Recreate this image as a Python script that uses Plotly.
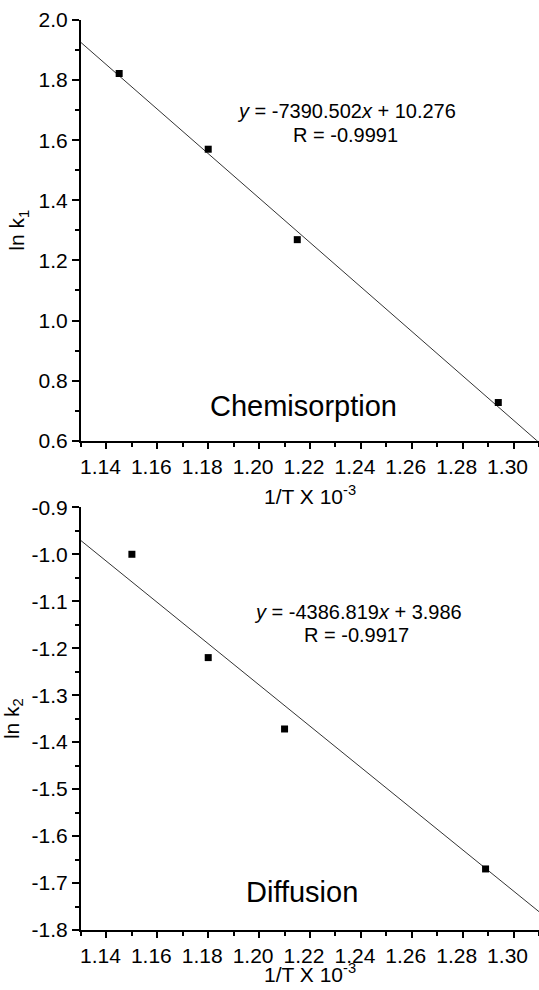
import plotly.graph_objects as go
from plotly.subplots import make_subplots

# Data
x_chem = [1.145, 1.180, 1.215, 1.294]
y_chem = [1.822, 1.570, 1.269, 0.727]
x_diff = [1.150, 1.180, 1.210, 1.289]
y_diff = [-1.000, -1.220, -1.372, -1.670]

fit_x = [1.13, 1.31]
fit_chem_y = [1.925, 0.594]
fit_diff_y = [-0.971, -1.761]

eq_chem = ["<i>y</i> = -7390.502<i>x</i> + 10.276", "R = -0.9991"]
eq_diff = ["<i>y</i> = -4386.819<i>x</i> + 3.986", "R = -0.9917"]
labels = ["Chemisorption", "Diffusion"]
x_title = "1/T X 10<sup>-3</sup>"

xticks = [1.14, 1.16, 1.18, 1.20, 1.22, 1.24, 1.26, 1.28, 1.30]
yticks_top = [0.6, 0.8, 1.0, 1.2, 1.4, 1.6, 1.8, 2.0]
yticks_bot = [-1.8, -1.7, -1.6, -1.5, -1.4, -1.3, -1.2, -1.1, -1.0, -0.9]

FONT = "Arial, Liberation Sans, sans-serif"
TICK_SIZE = 21
TITLE_SIZE = 21

fig = make_subplots(rows=2, cols=1)

line_style = dict(color="#333333", width=1)
marker_style = dict(symbol="square", size=7, color="black")

fig.add_trace(go.Scatter(x=fit_x, y=fit_chem_y, mode="lines", line=line_style,
                         showlegend=False, hoverinfo="skip"), row=1, col=1)
fig.add_trace(go.Scatter(x=x_chem, y=y_chem, mode="markers", marker=marker_style,
                         showlegend=False, cliponaxis=False), row=1, col=1)
fig.add_trace(go.Scatter(x=fit_x, y=fit_diff_y, mode="lines", line=line_style,
                         showlegend=False, hoverinfo="skip"), row=2, col=1)
fig.add_trace(go.Scatter(x=x_diff, y=y_diff, mode="markers", marker=marker_style,
                         showlegend=False, cliponaxis=False), row=2, col=1)

xaxis_common = dict(
    range=[1.13, 1.31], tickvals=xticks, ticktext=[f"{v:.2f}" for v in xticks],
    ticks="outside", ticklen=6, tickwidth=1.5, tickcolor="black",
    showline=True, linecolor="black", linewidth=2, mirror=False,
    showgrid=False, zeroline=False,
    tickfont=dict(family=FONT, size=TICK_SIZE, color="black"),
    ticklabelshift=-6,
    minor=dict(dtick=0.01, tick0=1.13, ticks="outside", ticklen=4, tickwidth=1.5, tickcolor="black"),
)
fig.update_xaxes(**xaxis_common, row=1, col=1)
fig.update_xaxes(**xaxis_common, row=2, col=1)

yaxis_common = dict(
    ticks="outside", ticklen=7, tickwidth=1.5, tickcolor="black",
    showline=True, linecolor="black", linewidth=2, mirror=False,
    showgrid=False, zeroline=False,
    tickfont=dict(family=FONT, size=TICK_SIZE, color="black"),
)
fig.update_yaxes(**yaxis_common, range=[0.6, 2.0], tickvals=yticks_top,
                 ticktext=[f"{v:.1f}" for v in yticks_top],
                 minor=dict(dtick=0.1, tick0=0.6, ticks="outside", ticklen=4, tickwidth=1.5, tickcolor="black"),
                 title=dict(text="ln k<sub>1</sub>", font=dict(family=FONT, size=TITLE_SIZE, color="black"), standoff=8),
                 domain=[0.5377, 1.0], row=1, col=1)
fig.update_yaxes(**yaxis_common, range=[-1.8, -0.9], tickvals=yticks_bot,
                 ticktext=[f"{v:.1f}" for v in yticks_bot],
                 minor=dict(dtick=0.05, tick0=-1.8, ticks="outside", ticklen=4, tickwidth=1.5, tickcolor="black"),
                 title=dict(text="ln k<sub>2</sub>", font=dict(family=FONT, size=TITLE_SIZE, color="black"), standoff=8),
                 domain=[0.0, 0.4645], row=2, col=1)

title_font = dict(family=FONT, size=TITLE_SIZE, color="black")
fig.add_annotation(x=0.5, y=0.4785, xref="paper", yref="paper", text=x_title,
                   showarrow=False, font=title_font, xanchor="center", yanchor="middle")
fig.add_annotation(x=0.5, y=-0.0626, xref="paper", yref="paper", text=x_title,
                   showarrow=False, font=title_font, xanchor="center", yanchor="bottom",
                   borderpad=0)

ann_font = dict(family=FONT, size=20, color="black")
big_font = dict(family=FONT, size=29, color="black")
fig.add_annotation(x=1.2342, y=1.697, xref="x", yref="y", text=eq_chem[0], showarrow=False, font=ann_font)
fig.add_annotation(x=1.2338, y=1.617, xref="x", yref="y", text=eq_chem[1], showarrow=False, font=ann_font)
fig.add_annotation(x=1.2173, y=0.717, xref="x", yref="y", text=labels[0], showarrow=False, font=big_font)
fig.add_annotation(x=1.2389, y=-1.123, xref="x2", yref="y2", text=eq_diff[0], showarrow=False, font=ann_font)
fig.add_annotation(x=1.2381, y=-1.172, xref="x2", yref="y2", text=eq_diff[1], showarrow=False, font=ann_font)
fig.add_annotation(x=1.2169, y=-1.7185, xref="x2", yref="y2", text=labels[1], showarrow=False, font=big_font)

fig.update_layout(
    width=539, height=990,
    margin=dict(l=81, r=0, t=20, b=60, autoexpand=False),
    paper_bgcolor="white", plot_bgcolor="white",
    font=dict(family=FONT, color="black"),
    showlegend=False,
)

fig.write_html("out.html")
